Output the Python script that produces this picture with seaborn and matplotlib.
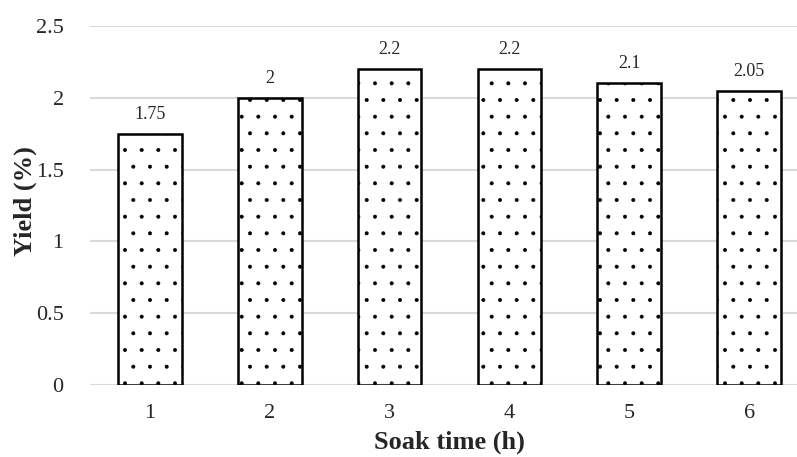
import matplotlib
matplotlib.use("Agg")
import matplotlib.pyplot as plt
import seaborn as sns
import pandas as pd

categories = ["1", "2", "3", "4", "5", "6"]
values = [1.75, 2.0, 2.2, 2.2, 2.1, 2.05]
labels = ["1.75", "2", "2.2", "2.2", "2.1", "2.05"]
yticks = [0, 0.5, 1, 1.5, 2, 2.5]
ytick_labels = ["0", "0.5", "1", "1.5", "2", "2.5"]

sns.set_theme(style="white")
plt.rcParams['font.family'] = ['Liberation Serif', 'DejaVu Serif']
plt.rcParams['hatch.linewidth'] = 0.4
plt.rcParams['hatch.color'] = 'black'

df = pd.DataFrame({"x": categories, "y": values})
fig = plt.figure(figsize=(7.97, 4.57), dpi=100)
ax = fig.add_axes([0.113, 0.1575, 0.887, 0.7855])
sns.barplot(data=df, x="x", y="y", ax=ax, color="white", edgecolor="black",
            linewidth=1.8, width=0.53, zorder=3)
for p in ax.patches:
    p.set_hatch(".")
    p.set_facecolor("white")
    p.set_edgecolor("black")

ax.set_ylim(0, 2.5)
ax.set_xlim(-0.5, 5.4)
ax.set_yticks(yticks)
ax.set_yticklabels(ytick_labels, fontsize=16)
ax.tick_params(axis='x', labelsize=16, length=0, pad=14)
ax.tick_params(axis='y', length=0, pad=19)
ax.yaxis.grid(True, color="#d9d9d9", linewidth=1.5, zorder=0)
ax.set_axisbelow(True)
for s in ax.spines.values():
    s.set_visible(False)

for i, (v, l) in enumerate(zip(values, labels)):
    ax.annotate(l, (i, v), xytext=(0, 8), textcoords="offset points",
                ha="center", va="bottom", fontsize=13)

ax.set_xlabel("Soak time (h)", fontsize=19, fontweight="bold")
ax.set_ylabel("Yield (%)", fontsize=19, fontweight="bold")
ax.xaxis.set_label_coords(0.508, -0.128)
ax.yaxis.set_label_coords(-0.075, 0.512)
fig.savefig("out.png", dpi=100)
